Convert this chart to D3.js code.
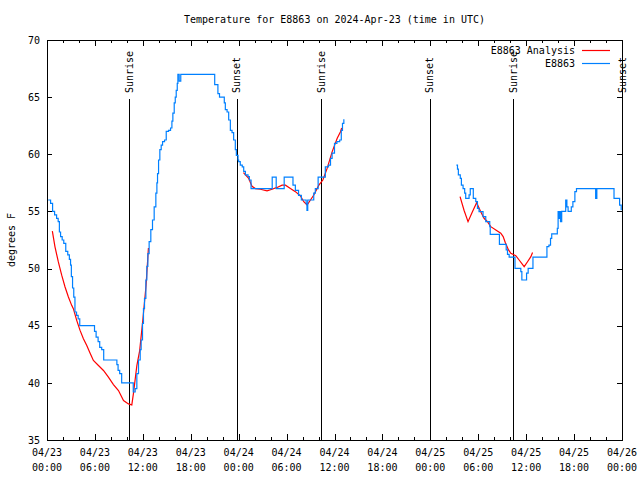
<!DOCTYPE html>
<html>
<head>
<meta charset="utf-8">
<script src="https://cdn.jsdelivr.net/npm/d3@7"></script>
<style>
  body { margin: 0; background: #fff; }
  svg { display: block; }
  text { font-family: "DejaVu Sans Mono", monospace; font-size: 10px; fill: #000; }
</style>
</head>
<body>
<div id="chart"></div>
<script>
// hours since 2024-04-23 00:00 UTC, temperature in F
const obsDay1 = [
  [0.15,56.0],[0.45,55.7],[0.7,55.0],[0.95,54.7],[1.2,54.4],[1.4,54.1],[1.55,53.2],[1.7,52.8],
  [1.9,52.5],[2.1,52.2],[2.35,51.5],[2.6,51.2],[2.8,50.8],[2.95,50.3],[3.05,49.3],[3.2,48.3],
  [3.35,47.5],[3.5,46.2],[3.7,45.9],[3.9,45.6],[4.1,45.0],[5.95,44.5],[6.15,44.0],[6.4,43.6],
  [6.6,43.1],[6.85,42.9],[7.1,42.0],[8.75,41.6],[8.9,41.1],[9.1,40.8],[9.35,40.0],[10.8,39.2],
  [11.04,39.5],[11.25,40.8],[11.46,42.0],[11.67,42.9],[11.79,43.75],[11.96,45.2],[12.08,46.5],
  [12.21,47.4],[12.38,49.0],[12.5,50.2],[12.63,51.3],[12.79,52.35],[13.0,53.4],[13.21,54.25],
  [13.42,55.4],[13.63,56.6],[13.76,57.5],[13.84,58.3],[13.97,59.5],[14.13,60.4],[14.3,60.8],
  [14.47,61.1],[14.72,61.25],[14.93,62.0],[15.22,62.1],[15.47,62.3],[15.64,62.9],[15.76,63.6],
  [15.93,64.5],[16.06,65.0],[16.18,65.6],[16.31,66.2],[16.39,67.0],[16.55,66.4],[16.75,67.0],
  [21.0,66.1],[21.4,65.3],[21.6,65.0],[22.2,64.5],[22.33,63.9],[22.55,63.7],[22.75,63.0],
  [22.96,62.1],[23.17,61.9],[23.37,61.25],[23.58,60.4],[23.71,59.9],[23.92,59.5],[24.0,59.35],
  [24.2,59.06],[24.45,58.9],[24.63,58.5],[24.84,58.2],[25.17,58.04],[25.34,57.75],[25.55,57.0],
  [28.2,58.0],[28.7,57.0],[29.7,58.0],[30.8,57.3],[31.1,56.85],[31.5,56.4],[31.85,56.0],
  [32.45,55.7],[32.55,55.1],[32.65,56.0],[33.4,56.6],[33.6,57.0],[33.95,58.0],[34.85,58.9],
  [35.25,59.06],[35.5,59.65],[35.7,60.1],[36.0,60.96],[36.3,61.1],[36.65,61.25],[36.85,62.1],
  [37.0,62.7],[37.17,63.06]
];
const obsDay3 = [
  [51.26,59.06],[51.4,58.7],[51.51,58.2],[51.75,57.9],[51.89,57.3],[52.1,57.0],[52.3,56.6],
  [52.43,56.15],[52.85,56.44],[53.0,57.0],[53.38,56.15],[53.69,55.85],[53.9,55.27],[54.1,54.98],
  [54.6,54.54],[54.94,54.1],[55.44,53.67],[55.5,53.0],[56.65,52.12],[57.5,51.63],[57.66,51.25],
  [57.87,51.0],[58.6,50.02],[59.33,49.73],[59.46,49.0],[60.05,49.6],[60.25,50.02],[60.85,51.0],
  [62.6,51.92],[62.85,52.06],[63.05,52.65],[63.2,53.03],[63.9,53.52],[64.0,54.98],[64.1,54.4],
  [64.2,54.98],[64.3,54.1],[64.45,55.0],[64.95,56.0],[65.1,55.4],[65.25,55.0],[65.65,55.4],
  [65.85,55.85],[66.1,56.73],[66.3,57.0],[68.7,56.15],[68.85,57.0],[71.0,56.15],[71.7,55.56],
  [71.9,55.1]
];
const anaDay1a = [
  [0.67,53.27],[1.0,51.9],[1.42,50.58],[1.84,49.42],[2.26,48.39],[2.68,47.51],[3.09,46.78],
  [3.3,46.49],[3.72,45.47],[4.14,44.59],[4.56,43.86],[4.98,43.27],[5.4,42.6],[5.81,41.96],
  [6.44,41.52],[7.07,41.08],[7.69,40.5],[8.32,39.85],[8.95,39.33],[9.58,38.45],[10.2,38.16],
  [10.62,38.07],[10.83,39.1],[11.25,41.5],[11.6,42.8],[12.0,45.5],[12.4,48.5],[12.7,51.8]
];
const anaDay1b = [
  [24.6,58.4],[25.25,57.9],[25.67,57.2],[26.09,57.0],[26.72,56.94],[27.55,56.8],[28.18,56.94],
  [28.81,57.1],[29.44,57.3],[29.86,57.3],[30.48,57.0],[31.1,56.73],[31.74,56.35],[32.15,55.85],
  [32.57,55.56],[32.99,56.0],[33.41,56.44],[34.04,57.3],[34.54,57.75],[35.08,58.77],[35.71,60.23],
  [36.34,61.4],[36.75,61.98],[36.9,62.3]
];
const anaDay3 = [
  [51.72,56.3],[52.22,55.1],[52.72,54.1],[53.27,54.98],[53.8,55.77],[54.31,54.98],[54.73,54.4],
  [55.15,54.1],[55.57,53.67],[56.2,53.38],[56.82,53.09],[57.12,52.8],[57.37,52.3],[57.79,51.63],
  [58.08,51.34],[58.7,51.13],[59.12,50.75],[59.75,50.17],[60.17,50.6],[60.59,51.04],[60.8,51.4]
];
const sunHours = [10.33, 23.79, 34.33, 47.9, 58.4, 72.0];
const sunLabels = ['Sunrise', 'Sunset', 'Sunrise', 'Sunset', 'Sunrise', 'Sunset'];
const yTicks = [35, 40, 45, 50, 55, 60, 65, 70];
const seriesNames = ['E8863 Analysis', 'E8863'];
const seriesColors = ['#ff0000', '#0080ff'];

const t0 = Date.UTC(2024, 3, 23);
const toDate = h => new Date(t0 + h * 3600e3);

const W = 640, H = 480;
const L = 47, R = 622, T = 40, B = 440;

const svg = d3.select('#chart').append('svg')
  .attr('width', W).attr('height', H);

const x = d3.scaleUtc().domain([toDate(0), toDate(72)]).range([L, R]);
const y = d3.scaleLinear().domain([35, 70]).range([B, T]);

// axes
function styleAxis(g) {
  g.select('.domain').remove();
  g.selectAll('line').attr('stroke', '#000').attr('shape-rendering', 'crispEdges');
  g.attr('font-family', null).attr('font-size', null);
}

svg.append('g').attr('transform', `translate(0,${B})`)
  .call(d3.axisBottom(x).ticks(d3.utcHour.every(2)).tickSizeInner(-3).tickSizeOuter(0).tickFormat(''))
  .call(styleAxis);
svg.append('g').attr('transform', `translate(0,${T})`)
  .call(d3.axisTop(x).ticks(d3.utcHour.every(2)).tickSizeInner(-3).tickSizeOuter(0).tickFormat(''))
  .call(styleAxis);
svg.append('g').attr('transform', `translate(0,${B})`)
  .call(d3.axisBottom(x).ticks(d3.utcHour.every(6)).tickSizeInner(-6).tickSizeOuter(0).tickFormat(''))
  .call(styleAxis);
svg.append('g').attr('transform', `translate(0,${T})`)
  .call(d3.axisTop(x).ticks(d3.utcHour.every(6)).tickSizeInner(-6).tickSizeOuter(0).tickFormat(''))
  .call(styleAxis);

svg.append('g').attr('transform', `translate(${L},0)`)
  .call(d3.axisLeft(y).tickValues(yTicks).tickSizeInner(-5).tickSizeOuter(0).tickPadding(7))
  .call(styleAxis);
svg.append('g').attr('transform', `translate(${R},0)`)
  .call(d3.axisRight(y).tickValues(yTicks).tickSizeInner(-5).tickSizeOuter(0).tickFormat(''))
  .call(styleAxis);

// two-line time labels
const fmtDay = d3.utcFormat('%m/%d'), fmtTime = d3.utcFormat('%H:%M');
const xl = svg.append('g').selectAll('text')
  .data(x.ticks(d3.utcHour.every(6)))
  .join('text')
  .attr('text-anchor', 'middle')
  .attr('x', d => x(d));
xl.append('tspan').attr('x', d => x(d)).attr('y', 456).text(fmtDay);
xl.append('tspan').attr('x', d => x(d)).attr('y', 471).text(fmtTime);

// frame
svg.append('rect')
  .attr('x', L).attr('y', T).attr('width', R - L).attr('height', B - T)
  .attr('fill', 'none').attr('stroke', '#000').attr('shape-rendering', 'crispEdges');

// sunrise / sunset markers
const sun = svg.append('g');
sun.selectAll('line').data(sunHours).join('line')
  .attr('x1', d => Math.round(x(toDate(d))) + 0.5).attr('x2', d => Math.round(x(toDate(d))) + 0.5)
  .attr('y1', 99).attr('y2', B)
  .attr('stroke', '#000');
sun.selectAll('text').data(sunHours).join('text')
  .attr('transform', d => `translate(${x(toDate(d))},93) rotate(-90)`)
  .attr('text-anchor', 'start')
  .attr('dominant-baseline', 'central')
  .text((d, i) => sunLabels[i]);

// series
const line = d3.line().x(d => x(toDate(d[0]))).y(d => y(d[1]));
const stepLine = d3.line().curve(d3.curveStepAfter).x(d => x(toDate(d[0]))).y(d => y(d[1]));

[anaDay1a, anaDay1b, anaDay3].forEach(seg => {
  svg.append('path').datum(seg)
    .attr('d', line)
    .attr('fill', 'none').attr('stroke', seriesColors[0]).attr('stroke-width', 1.2);
});
[obsDay1, obsDay3].forEach(seg => {
  svg.append('path').datum(seg)
    .attr('d', stepLine)
    .attr('fill', 'none').attr('stroke', seriesColors[1]).attr('stroke-width', 1.2);
});

// legend
const lg = svg.append('g');
seriesNames.forEach((name, i) => {
  const ly = 50 + i * 13;
  lg.append('text').attr('x', 575).attr('y', ly).attr('dy', '0.35em')
    .attr('text-anchor', 'end').text(name);
  lg.append('line').attr('x1', 582).attr('x2', 610).attr('y1', ly + 0.5).attr('y2', ly + 0.5)
    .attr('stroke', seriesColors[i]).attr('stroke-width', 1.2);
});

// titles
svg.append('text').attr('x', (L + R) / 2).attr('y', 23)
  .attr('text-anchor', 'middle')
  .text('Temperature for E8863 on 2024-Apr-23 (time in UTC)');
svg.append('text')
  .attr('transform', `translate(11,${(T + B) / 2}) rotate(-90)`)
  .attr('text-anchor', 'middle')
  .attr('dominant-baseline', 'central')
  .text('degrees F');
</script>
</body>
</html>
